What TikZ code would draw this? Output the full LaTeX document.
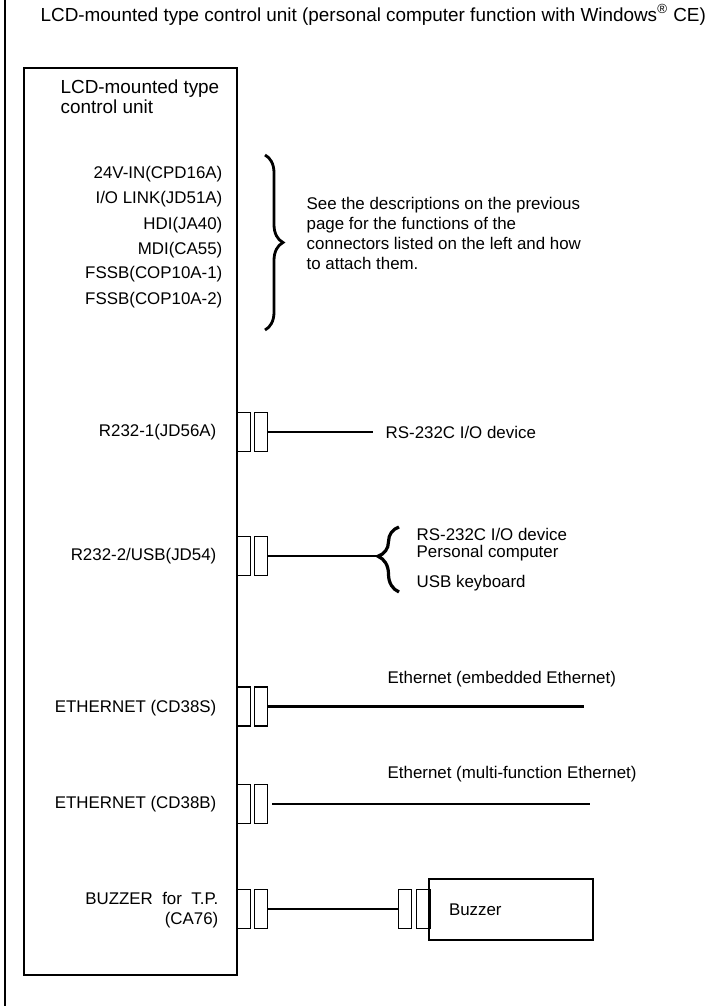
\documentclass[tikz,border=0pt]{standalone}
\usepackage{fontspec}
\setmainfont{Liberation Sans}
\usetikzlibrary{decorations.pathreplacing}

\begin{document}
\begin{tikzpicture}[x=0.5pt,y=-0.5pt,line width=0.65pt,
  font=\fontsize{8.45}{9.85}\selectfont,
  pin/.style={draw,minimum width=6.75pt,minimum height=19.5pt,inner sep=0pt},
  lbl/.style={anchor=east,inner sep=0pt},
  txt/.style={anchor=west,inner sep=0pt},
  big/.style={font=\fontsize{9.45}{10}\selectfont},
  cable/.style={line width=1pt},
  lan/.style={line width=1.3pt},
  curly/.style={decorate,decoration={brace,amplitude=#1},line width=1.4pt}]
  \useasboundingbox (0,0) rectangle (721,1006);
  \draw (5,0) -- (5,1006);
  \node[txt,big] (title) at (40,15) {LCD-mounted type control unit (personal computer function with Windows\textsuperscript{®} CE)};
  \node[draw,minimum width=106.5pt,minimum height=453.5pt] (unit) at (130.5,521.5) {};
  \node[txt,big,align=left] (head) at (60,97) {LCD-mounted type\\control unit};

  % connectors described on the previous page
  \foreach \n/\y/\t in {1/174/24V-IN(CPD16A),2/199/{I/O LINK(JD51A)},3/225/HDI(JA40),
      4/250/MDI(CA55),5/274/FSSB(COP10A-1),6/300/FSSB(COP10A-2)}
    \node[lbl] (c\n) at (223,\y) {\t};
  \draw[curly=9pt] (265,155) -- (265,330);
  \node[txt,align=left] (note) at (306,233.5) {See the descriptions on the previous\\page for the functions of the\\connectors listed on the left and how\\to attach them.};

  % connector pairs on the unit
  \foreach \k/\y in {1/432,2/556,3/706.5,4/804,5/909} {
    \node[pin] (pa\k) at (243.5,\y) {};
    \node[pin] (pb\k) at (261,\y) {};
  }

  \node[lbl] (r1) at (217,432) {R232-1(JD56A)};
  \node[txt] (dev1) at (385,432) {RS-232C I/O device};
  \draw[cable] (pb1.east) -- ([xshift=-6pt]dev1.west);

  \node[lbl] (r2) at (217,556) {R232-2/USB(JD54)};
  \coordinate (tip2) at (378,556);
  \draw[cable] (pb2.east) -- (tip2);
  \draw[curly=10.5pt,decoration={aspect=0.55},line width=1.6pt] (399,592) -- (399,527);
  \node[txt] (dev2) at (416,534) {RS-232C I/O device};
  \node[txt] (pc) at (416,553) {Personal computer};
  \node[txt] (kbd) at (416,583) {USB keyboard};

  \node[lbl] (e1) at (217,708) {ETHERNET (CD38S)};
  \node[txt] (lan1) at (387,679) {Ethernet (embedded Ethernet)};
  \coordinate (end1) at (584,706.5);
  \draw[lan] (pb3.east) -- (end1);

  \node[lbl] (e2) at (217,804) {ETHERNET (CD38B)};
  \node[txt] (lan2) at (387,774) {Ethernet (multi-function Ethernet)};
  \coordinate (end2) at (590,804);
  \draw[lan,shorten <=2pt] (pb4.east) -- (end2);

  % buzzer
  \node[lbl,align=right] (bz) at (219,910) {BUZZER\ \ for\ \ T.P.\\(CA76)};
  \node[pin] (qa) at (405,909) {};
  \node[pin] (qb) at (423.5,909) {};
  \node[draw,minimum width=82pt,minimum height=30.5pt,text width=62pt,
    inner xsep=10pt,align=left] (buzzer) at (511,909.5) {Buzzer};
  \draw[cable] (pb5.east) -- (qa.west);
\end{tikzpicture}
\end{document}
